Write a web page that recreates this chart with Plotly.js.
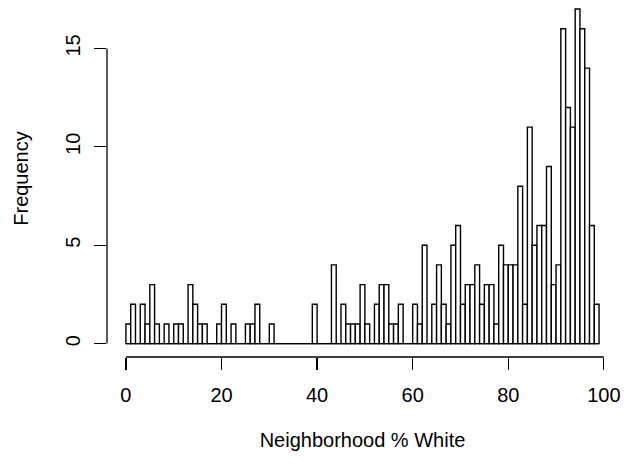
<!DOCTYPE html>
<html>
<head>
<meta charset="utf-8">
<script src="https://cdn.plot.ly/plotly-3.0.1.min.js"></script>
<style>html,body{margin:0;padding:0;background:#fff;}#chart{width:624px;height:465px;}</style>
</head>
<body>
<div id="chart"></div>
<script>
// Histogram counts, one per 1-point bin starting at 0 (bins 0-1, 1-2, ..., 98-99)
const counts = [
  1, 2, 0, 2, 1, 3, 1, 0, 1, 0,
  1, 1, 0, 3, 2, 1, 1, 0, 0, 1,
  2, 0, 1, 0, 0, 1, 1, 2, 0, 0,
  1, 0, 0, 0, 0, 0, 0, 0, 0, 2,
  0, 0, 0, 4, 0, 2, 1, 1, 1, 3,
  1, 0, 2, 3, 3, 1, 1, 2, 0, 0,
  2, 1, 5, 0, 2, 4, 2, 1, 5, 6,
  2, 3, 3, 4, 2, 3, 3, 1, 5, 4,
  4, 4, 8, 2, 11, 5, 6, 6, 9, 3,
  4, 16, 12, 11, 17, 16, 14, 6, 2
];
const binFirst = 0;
const binWidth = 1;
const xTicks = [0, 20, 40, 60, 80, 100];
const yTicks = [0, 5, 10, 15];
const xTitle = "Neighborhood % White";
const yTitle = "Frequency";

const binLeft = counts.map((_, i) => binFirst + i * binWidth);
const binEnd = binFirst + counts.length * binWidth;

const font = {family: "Liberation Sans, Arial, Helvetica, sans-serif", size: 20, color: "#000"};

const trace = {
  type: "bar",
  x: binLeft,
  y: counts,
  width: binWidth,
  offset: 0,
  marker: {color: "#ffffff", line: {color: "#000", width: 1.4}},
  hoverinfo: "skip"
};

const layout = {
  width: 624, height: 465,
  margin: {l: 107, r: 6, t: 0, b: 107.6},
  paper_bgcolor: "#fff", plot_bgcolor: "#fff",
  showlegend: false,
  font: font,
  xaxis: {
    range: [-3.96, 102.96],
    showgrid: false, zeroline: false, showline: false,
    tickmode: "array", tickvals: xTicks, ticktext: xTicks.map(String),
    ticks: "outside", ticklen: 12, tickwidth: 1.3, tickcolor: "#000",
    tickfont: font, ticklabelstandoff: 8,
    title: {text: xTitle, font: font, standoff: 27}
  },
  yaxis: {
    range: [-0.68, 17.46],
    showgrid: false, zeroline: false, showline: false,
    tickmode: "array", tickvals: yTicks, ticktext: yTicks.map(String),
    ticks: "outside", ticklen: 12, tickwidth: 1.3, tickcolor: "#000",
    tickangle: -90,
    tickfont: font, ticklabelstandoff: 6,
    title: {text: yTitle, font: font, standoff: 28}
  },
  shapes: [
    {type: "line", xref: "x", yref: "paper", x0: xTicks[0], x1: xTicks[xTicks.length - 1], y0: 0, y1: 0,
     line: {color: "#000", width: 1.3}},
    {type: "line", xref: "paper", yref: "y", x0: 0, x1: 0, y0: yTicks[0], y1: yTicks[yTicks.length - 1],
     line: {color: "#000", width: 1.3}},
    {type: "line", xref: "x", yref: "y", x0: binFirst, x1: binEnd, y0: 0, y1: 0,
     line: {color: "#000", width: 1.4}, layer: "above"}
  ]
};

Plotly.newPlot("chart", [trace], layout, {displayModeBar: false, staticPlot: true});
</script>
</body>
</html>
